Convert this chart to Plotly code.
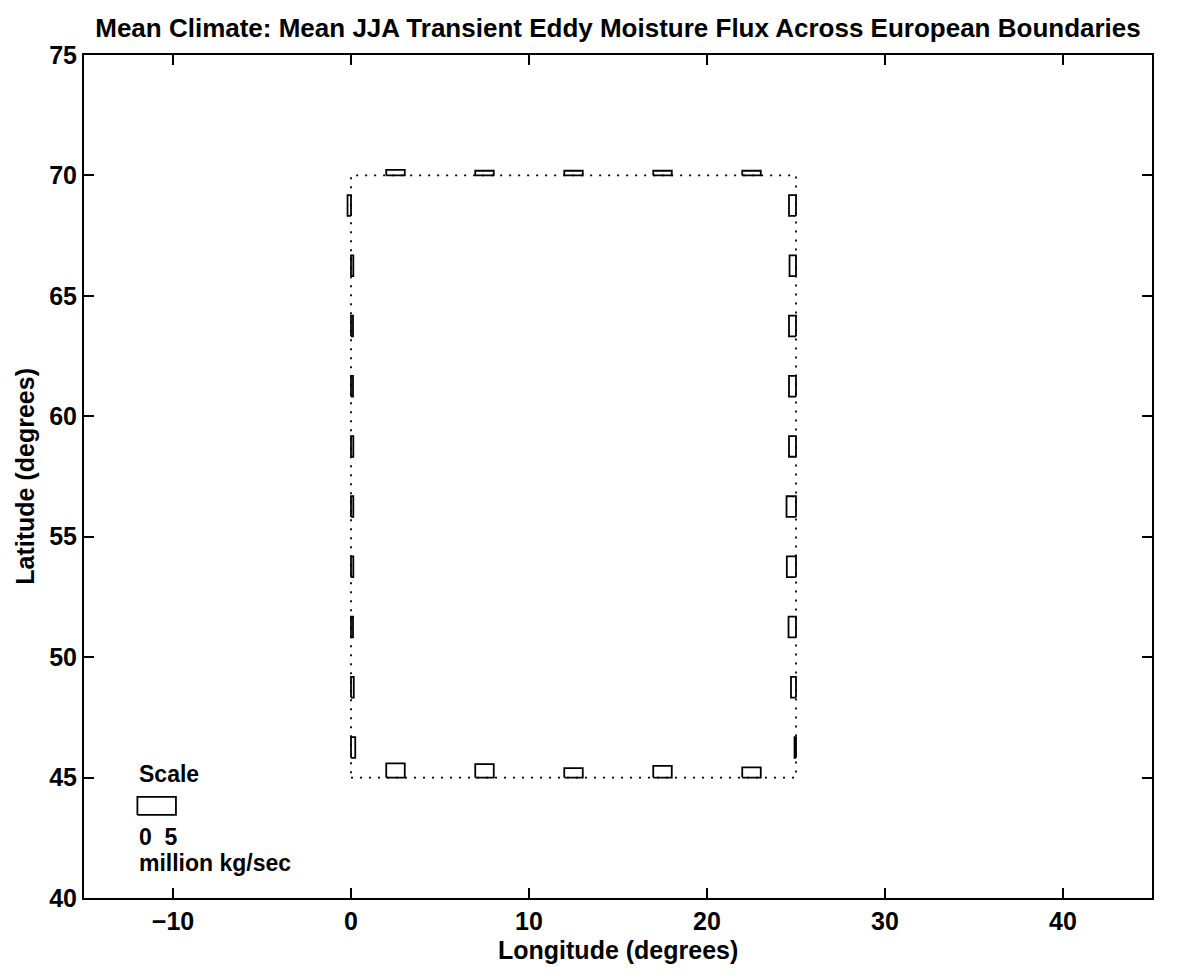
import plotly.graph_objects as go

# ---------------- data ----------------
# segment centres along each boundary of the European box (0-25E, 45-70N)
top_lon = [2.5, 7.5, 12.5, 17.5, 22.5]
top_flux = [0.53, 0.45, 0.45, 0.45, 0.45]          # northward, million kg/s (lat 70)
bottom_lon = [2.5, 7.5, 12.5, 17.5, 22.5]
bottom_flux = [1.36, 1.29, 0.91, 1.13, 0.98]       # northward, million kg/s (lat 45)
west_lat = [68.75, 66.25, 63.75, 61.25, 58.75, 56.25, 53.75, 51.25, 48.75, 46.25]
west_flux = [-0.45, 0.30, 0.26, 0.26, 0.30, 0.30, 0.30, 0.26, 0.36, 0.55]   # eastward (lon 0)
east_lat = [68.75, 66.25, 63.75, 61.25, 58.75, 56.25, 53.75, 51.25, 48.75, 46.25]
east_flux = [-0.91, -0.84, -0.91, -0.91, -0.91, -1.23, -1.19, -0.97, -0.65, -0.19]  # eastward (lon 25)

box_lon = [0, 25]
box_lat = [45, 70]
scale_value = 5  # million kg/sec

x_ticks = [-10, 0, 10, 20, 30, 40]
y_ticks = [40, 45, 50, 55, 60, 65, 70, 75]

# ---------------- drawing constants ----------------
K = 0.433          # degrees per million kg/s
HW_LON = 0.52      # half width of boxes on N/S boundaries (deg lon)
HW_LAT = 0.43      # half height of boxes on W/E boundaries (deg lat)
FONT = "Liberation Sans"
LW = 1.8

fig = go.Figure()

# dotted boundary of the region
fig.add_trace(go.Scatter(
    x=[box_lon[0], box_lon[1], box_lon[1], box_lon[0], box_lon[0]],
    y=[box_lat[0], box_lat[0], box_lat[1], box_lat[1], box_lat[0]],
    mode="lines", line=dict(color="black", width=1.8, dash="2px,7px"),
    hoverinfo="skip", showlegend=False))

xs, ys = [], []

def rect(x0, x1, y0, y1):
    xs.extend([x0, x1, x1, x0, x0, None])
    ys.extend([y0, y0, y1, y1, y0, None])

for lon, f in zip(top_lon, top_flux):
    rect(lon - HW_LON, lon + HW_LON, box_lat[1], box_lat[1] + f * K)
for lon, f in zip(bottom_lon, bottom_flux):
    rect(lon - HW_LON, lon + HW_LON, box_lat[0], box_lat[0] + f * K)
for lat, f in zip(west_lat, west_flux):
    rect(box_lon[0], box_lon[0] + f * K, lat - HW_LAT, lat + HW_LAT)
for lat, f in zip(east_lat, east_flux):
    rect(box_lon[1], box_lon[1] + f * K, lat - HW_LAT, lat + HW_LAT)

# scale box
sx0 = -12.0
rect(sx0, sx0 + scale_value * K, 43.45, 44.2)

fig.add_trace(go.Scatter(x=xs, y=ys, mode="lines",
                         line=dict(color="black", width=LW),
                         hoverinfo="skip", showlegend=False))

tf = dict(family=FONT, size=23, color="black", weight="bold")
lf = dict(family=FONT, size=25, color="black", weight="bold")
fig.add_annotation(x=sx0, y=45.15, text="Scale", xref="x", yref="y",
                   xanchor="left", yanchor="middle", showarrow=False, font=tf)
fig.add_annotation(x=sx0, y=42.55, text="0  " + str(scale_value), xref="x", yref="y",
                   xanchor="left", yanchor="middle", showarrow=False, font=tf)
fig.add_annotation(x=sx0, y=41.45, text="million kg/sec", xref="x", yref="y",
                   xanchor="left", yanchor="middle", showarrow=False, font=tf)

# axis titles
fig.add_annotation(x=0.5, y=-0.062, xref="paper", yref="paper",
                   text="Longitude (degrees)", showarrow=False,
                   xanchor="center", yanchor="middle", font=lf)
fig.add_annotation(x=-0.056, y=0.5, xref="paper", yref="paper",
                   text="Latitude (degrees)", showarrow=False, textangle=-90,
                   xanchor="center", yanchor="middle", font=lf)

axis_common = dict(showline=True, linecolor="black", linewidth=2, mirror="ticks",
                   ticks="inside", ticklen=10, tickwidth=1.8, tickcolor="black",
                   showgrid=False, zeroline=False,
                   tickfont=dict(family=FONT, size=25, color="black", weight="bold"))

fig.update_layout(
    width=1177, height=974,
    margin=dict(l=84, r=25, t=55, b=76),
    paper_bgcolor="white", plot_bgcolor="white",
    title=dict(text="Mean Climate: Mean JJA Transient Eddy Moisture Flux Across European Boundaries",
               x=0.5, xref="paper", xanchor="center", y=1 - 28 / 974, yanchor="middle",
               font=dict(family=FONT, size=26, color="black", weight="bold")),
    xaxis=dict(range=[-15, 45], tickvals=x_ticks, **axis_common),
    yaxis=dict(range=[40, 75], tickvals=y_ticks, **axis_common),
)

fig.write_html("out.html")
